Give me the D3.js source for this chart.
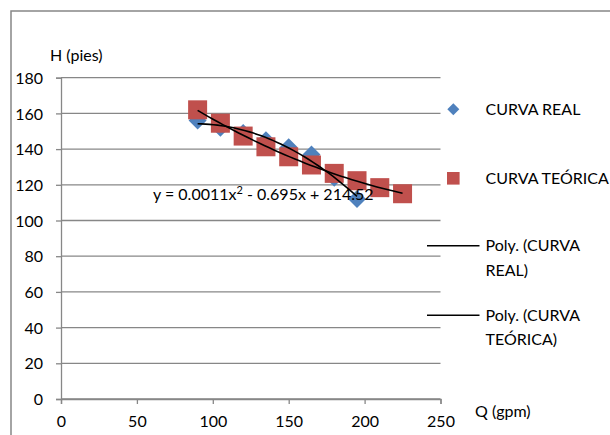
<!DOCTYPE html>
<html>
<head>
<meta charset="utf-8">
<script src="https://cdn.jsdelivr.net/npm/d3@7"></script>
<style>
  body { margin: 0; background: #fff; }
  text { font-family: Lato, "Open Sans", sans-serif; fill: #000; }
</style>
</head>
<body>
<script>
// data
var qReal = [90, 105, 120, 135, 150, 165, 180, 195];
var hReal = [156, 152, 149, 145, 141, 137, 124, 112];
var qTeo = [90, 105, 120, 135, 150, 165, 180, 195, 210, 225];
var hTeo = [162, 154.5, 147.3, 141.3, 135.7, 131.1, 126.4, 122.3, 118.4, 115];
var xTicks = [0, 50, 100, 150, 200, 250];
var yTicks = [0, 20, 40, 60, 80, 100, 120, 140, 160, 180];
var equation = ["y = 0.0011x", "2", " - 0.695x + 214.52"];

var width = 610, height = 435;
var grid = "#878787";
var fs = "16px";

var svg = d3.select("body").append("svg")
    .attr("width", width)
    .attr("height", height);

// outer chart border (runs off the picture on the right and bottom)
svg.append("rect")
    .attr("x", 11).attr("y", 11)
    .attr("width", 700).attr("height", 500)
    .attr("fill", "none")
    .attr("stroke", grid)
    .attr("stroke-width", 1.5);

var x = d3.scaleLinear().domain([0, 250]).range([61, 440.5]);
var y = d3.scaleLinear().domain([0, 180]).range([399, 77.7]);

// gridlines
svg.append("g")
  .selectAll("line")
  .data(yTicks)
  .enter().append("line")
    .attr("x1", x(0)).attr("x2", x(250))
    .attr("y1", function(d) { return y(d); })
    .attr("y2", function(d) { return y(d); })
    .attr("stroke", grid)
    .attr("stroke-width", 1.3);

var yAxis = svg.append("g")
    .attr("transform", "translate(" + x(0) + ",0)")
    .call(d3.axisLeft(y).tickValues(yTicks).tickSize(5).tickPadding(13));
var xAxis = svg.append("g")
    .attr("transform", "translate(0," + y(0) + ")")
    .call(d3.axisBottom(x).tickValues(xTicks).tickSize(5).tickPadding(12));

[xAxis, yAxis].forEach(function(a) {
  a.select(".domain").attr("stroke", grid).attr("stroke-width", 1.3);
  a.selectAll(".tick line").attr("stroke", grid).attr("stroke-width", 1.3);
  a.selectAll(".tick text").style("font-size", fs)
    .style("font-family", "Lato, sans-serif").attr("fill", "#000");
});
yAxis.selectAll(".tick text").attr("dy", "0.35em");
xAxis.selectAll(".tick text").attr("dy", "0.71em");

// axis titles
svg.append("text").attr("x", 50).attr("y", 61)
    .style("font-size", fs).text("H (pies)");
svg.append("text").attr("x", 475).attr("y", 417)
    .style("font-size", fs).text("Q (gpm)");

// points
var real = qReal.map(function(d, i) { return [d, hReal[i]]; });
var teo = qTeo.map(function(d, i) { return [d, hTeo[i]]; });

var diamond = d3.symbol().type(d3.symbolSquare).size(162);
svg.append("g")
  .selectAll("path")
  .data(real)
  .enter().append("path")
    .attr("d", diamond)
    .attr("transform", function(d) {
      return "translate(" + x(d[0]) + "," + y(d[1]) + ")rotate(45)";
    })
    .attr("fill", "#4F81BD");

var sq = 19;
svg.append("g")
  .selectAll("rect")
  .data(teo)
  .enter().append("rect")
    .attr("x", function(d) { return x(d[0]) - sq / 2; })
    .attr("y", function(d) { return y(d[1]) - sq / 2; })
    .attr("width", sq).attr("height", sq)
    .attr("fill", "#C0504D");

// second order polynomial trendline (least squares)
function polyFit(pts) {
  var s = [0, 0, 0, 0, 0], t = [0, 0, 0];
  pts.forEach(function(p) {
    for (var k = 0; k < 5; k++) s[k] += Math.pow(p[0], k);
    for (var k = 0; k < 3; k++) t[k] += Math.pow(p[0], k) * p[1];
  });
  var m = [[s[0], s[1], s[2], t[0]], [s[1], s[2], s[3], t[1]], [s[2], s[3], s[4], t[2]]];
  for (var i = 0; i < 3; i++) {
    for (var j = i + 1; j < 3; j++) {
      var f = m[j][i] / m[i][i];
      for (var k = i; k < 4; k++) m[j][k] -= f * m[i][k];
    }
  }
  var c = [0, 0, 0];
  for (var i = 2; i >= 0; i--) {
    var v = m[i][3];
    for (var k = i + 1; k < 3; k++) v -= m[i][k] * c[k];
    c[i] = v / m[i][i];
  }
  return function(q) { return c[0] + c[1] * q + c[2] * q * q; };
}

var line = d3.line()
    .x(function(d) { return x(d[0]); })
    .y(function(d) { return y(d[1]); });

[real, teo].forEach(function(pts) {
  var f = polyFit(pts);
  var lo = d3.min(pts, function(d) { return d[0]; });
  var hi = d3.max(pts, function(d) { return d[0]; });
  var curve = d3.range(lo, hi + 0.01, (hi - lo) / 40).map(function(q) { return [q, f(q)]; });
  svg.append("path")
      .attr("d", line(curve))
      .attr("fill", "none")
      .attr("stroke", "#000")
      .attr("stroke-width", 1.6);
});

// trendline equation
var eq = svg.append("text").attr("x", 153).attr("y", 200).style("font-size", fs);
eq.append("tspan").text(equation[0]);
eq.append("tspan").attr("dy", -6).style("font-size", "11px").text(equation[1]);
eq.append("tspan").attr("dy", 6).text(equation[2]);

// legend
var leg = svg.append("g");
leg.append("path")
    .attr("d", diamond.size(72)())
    .attr("transform", "translate(453.3,109.3)rotate(45)")
    .attr("fill", "#4F81BD");
leg.append("rect")
    .attr("x", 447).attr("y", 172).attr("width", 12.6).attr("height", 12.6)
    .attr("fill", "#C0504D");
[245.7, 315.3].forEach(function(ly) {
  leg.append("line")
      .attr("x1", 427).attr("x2", 479.5)
      .attr("y1", ly).attr("y2", ly)
      .attr("stroke", "#000").attr("stroke-width", 1.6);
});
var legText = [
  ["CURVA REAL", 109.3],
  ["CURVA TEÓRICA", 178.3],
  ["Poly. (CURVA", 245.7],
  ["REAL)", 270.5],
  ["Poly. (CURVA", 315.3],
  ["TEÓRICA)", 339.5]
];
leg.selectAll("text.l")
  .data(legText)
  .enter().append("text")
    .attr("class", "l")
    .attr("x", 485.5)
    .attr("y", function(d) { return d[1]; })
    .attr("dy", "0.35em")
    .style("font-size", fs)
    .text(function(d) { return d[0]; });
</script>
</body>
</html>
